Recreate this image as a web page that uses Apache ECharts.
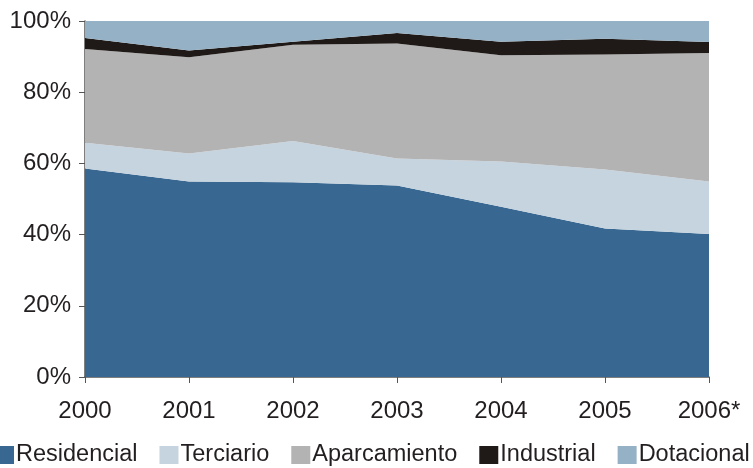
<!DOCTYPE html>
<html><head><meta charset="utf-8">
<script src="https://cdn.jsdelivr.net/npm/echarts@6/dist/echarts.min.js"></script>
<style>html,body{margin:0;padding:0;background:#fff}#c{width:753px;height:468px}</style>
</head><body><div id="c"></div>
<script>
const categories = ['2000','2001','2002','2003','2004','2005','2006*'];
const residencial = [58.6, 54.9, 54.7, 53.8, 47.8, 41.7, 40.2];
const terciario = [7.2, 7.9, 11.6, 7.6, 12.7, 16.6, 14.7];
const aparcamiento = [26.3, 27.0, 27.0, 32.3, 29.9, 32.3, 36.1];
const industrial = [3.1, 1.9, 0.9, 2.9, 3.8, 4.4, 3.1];
const dotacional = [4.8, 8.3, 5.8, 3.4, 5.8, 5.0, 5.9];
const seriesNames = ['Residencial','Terciario','Aparcamiento','Industrial','Dotacional'];
const colors = ['#386891','#c6d4df','#b3b3b4','#1f1a17','#95b1c5'];
const dataSets = [residencial, terciario, aparcamiento, industrial, dotacional];

const font = 'Liberation Sans, Arial, sans-serif';
const chart = echarts.init(document.getElementById('c'));
chart.setOption({
  animation: false,
  color: colors,
  grid: {left: 85, right: 44, top: 21, bottom: 91},
  legend: {
    bottom: 1, left: -5, itemGap: 22, itemWidth: 19, itemHeight: 18,
    icon: 'rect', padding: 0,
    textStyle: {fontFamily: font, fontSize: 23.5, color: '#231f20', padding: [0,0,0,-3]},
    data: seriesNames
  },
  xAxis: {
    type: 'category', boundaryGap: false, data: categories,
    axisLine: {lineStyle: {color: '#555', width: 1.5}},
    axisTick: {show: true, length: 6, alignWithLabel: true, lineStyle: {color: '#555'}},
    axisLabel: {fontFamily: font, fontSize: 24, color: '#231f20', margin: 22}
  },
  yAxis: {
    type: 'value', min: 0, max: 100, interval: 20,
    axisLine: {show: true, lineStyle: {color: '#555', width: 1.5}},
    axisTick: {show: true, length: 6, lineStyle: {color: '#555'}},
    splitLine: {show: false},
    axisLabel: {fontFamily: font, fontSize: 24, color: '#231f20', formatter: '{value}%', margin: 14}
  },
  series: seriesNames.map((n, i) => ({
    name: n, type: 'line', stack: 'total', data: dataSets[i],
    symbol: 'none', lineStyle: {width: 0},
    areaStyle: {color: colors[i], opacity: 1}
  }))
});
</script></body></html>
